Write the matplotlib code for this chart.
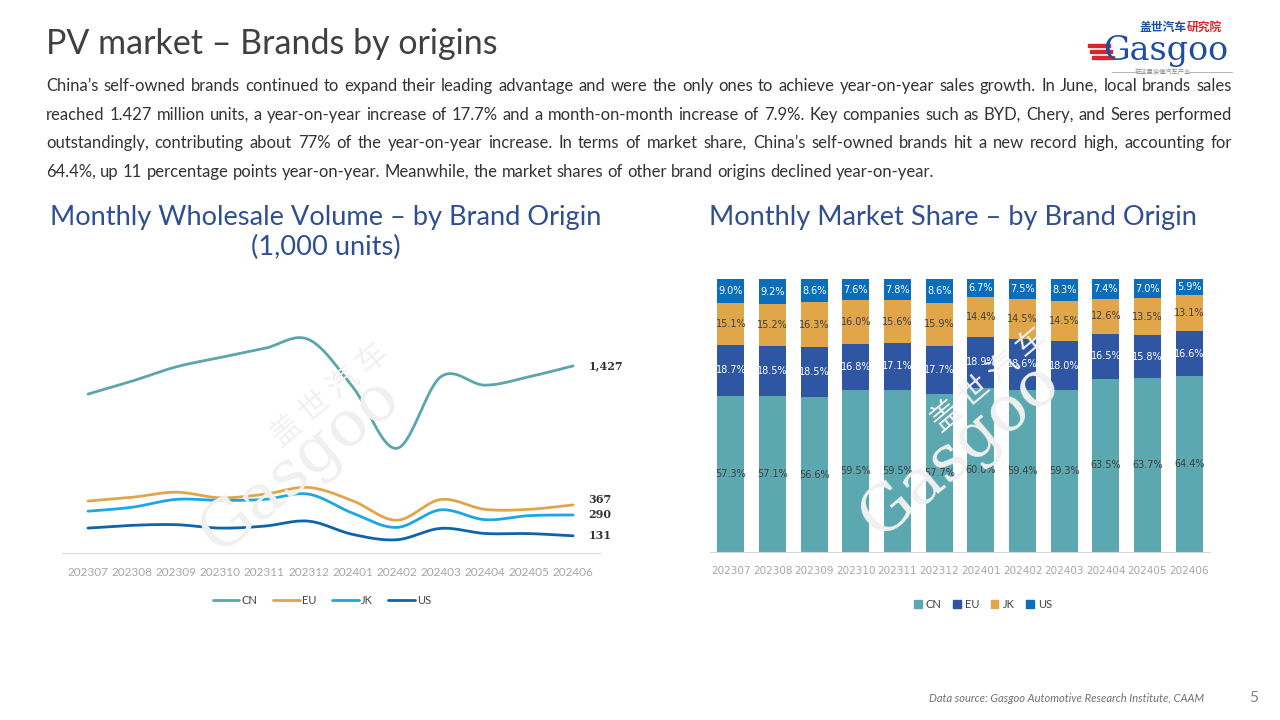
import matplotlib
matplotlib.use("Agg")
import matplotlib.pyplot as plt
from matplotlib.patches import Patch, Rectangle
import numpy as np

plt.rcParams['font.family'] = ['Lato', 'DejaVu Sans']

months = ['202307', '202308', '202309', '202310', '202311', '202312',
          '202401', '202402', '202403', '202404', '202405', '202406']

# monthly wholesale volume, 1,000 units
vol_cn = [1212, 1311, 1420, 1491, 1560, 1629, 1268, 798, 1344, 1280, 1344, 1427]
vol_eu = [396, 425, 464, 421, 448, 500, 399, 250, 408, 333, 333, 367]
vol_jk = [319, 349, 409, 401, 409, 449, 304, 195, 329, 254, 285, 290]
vol_us = [190, 211, 216, 190, 205, 243, 142, 101, 188, 149, 148, 131]

# market share, %
sh_cn = [57.3, 57.1, 56.6, 59.5, 59.5, 57.7, 60.0, 59.4, 59.3, 63.5, 63.7, 64.4]
sh_eu = [18.7, 18.5, 18.5, 16.8, 17.1, 17.7, 18.9, 18.6, 18.0, 16.5, 15.8, 16.6]
sh_jk = [15.1, 15.2, 16.3, 16.0, 15.6, 15.9, 14.4, 14.5, 14.5, 12.6, 13.5, 13.1]
sh_us = [9.0, 9.2, 8.6, 7.6, 7.8, 8.6, 6.7, 7.5, 8.3, 7.4, 7.0, 5.9]

paragraph = [
    "China’s self-owned brands continued to expand their leading advantage and were the only ones to achieve year-on-year sales growth. In June, local brands sales",
    "reached 1.427 million units, a year-on-year increase of 17.7% and a month-on-month increase of 7.9%. Key companies such as BYD, Chery, and Seres performed",
    "outstandingly, contributing about 77% of the year-on-year increase. In terms of market share, China’s self-owned brands hit a new record high, accounting for",
    "64.4%, up 11 percentage points year-on-year. Meanwhile, the market shares of other brand origins declined year-on-year.",
]

W, H = 1280, 720
fig = plt.figure(figsize=(12.8, 7.2), dpi=100)
fig.patch.set_facecolor('white')


def fx(px):
    return px / W


def fy(py):
    return 1 - py / H


def smooth(x, y, n=24):
    # Excel-style smoothed line (cubic Bezier through the points)
    pts = np.column_stack([x, y]).astype(float)
    ext = np.vstack([pts[0], pts, pts[-1]])
    out = []
    t = np.linspace(0, 1, n)[:, None]
    for i in range(len(pts) - 1):
        p0, p1, p2, p3 = ext[i], ext[i + 1], ext[i + 2], ext[i + 3]
        c1 = p1 + (p2 - p0) / 6
        c2 = p2 - (p3 - p1) / 6
        seg = (1 - t) ** 3 * p1 + 3 * (1 - t) ** 2 * t * c1 + 3 * (1 - t) * t ** 2 * c2 + t ** 3 * p2
        out.append(seg if i == 0 else seg[1:])
    out = np.vstack(out)
    return out[:, 0], out[:, 1]


# ---- header ----
fig.text(fx(46), fy(44), 'PV market – Brands by origins', fontsize=24.5,
         color='#404040', va='center', ha='left')

# justified paragraph
renderer = fig.canvas.get_renderer()
pfs = 12
pcol = '#333333'


def text_w(s):
    t = fig.text(0, 0, s, fontsize=pfs)
    w = t.get_window_extent(renderer).width
    t.remove()
    return w


x0, x1 = 46, 1232
baselines = [91, 120, 148, 177]
space_w = text_w('a a') - text_w('aa')
for i, line in enumerate(paragraph):
    words = line.split(' ')
    widths = [text_w(w) for w in words]
    if i < len(paragraph) - 1:
        gap = (x1 - x0 - sum(widths)) / (len(words) - 1)
    else:
        gap = space_w
    x = x0
    for w, wd in zip(words, widths):
        fig.text(fx(x), fy(baselines[i]), w, fontsize=pfs, color=pcol,
                 va='baseline', ha='left')
        x += wd + gap

# logo
fig.text(fx(1186), fy(27), '盖世汽车', fontsize=8.5, color='#1F4E9E', weight='bold',
         family=['Noto Sans CJK SC'], va='center', ha='right')
fig.text(fx(1187), fy(27), '研究院', fontsize=8.5, color='#D8262C', weight='bold',
         family=['Noto Sans CJK SC'], va='center', ha='left')
fig.text(fx(1166), fy(51), 'Gasgoo', fontsize=24, color='#1F4E9E',
         family=['DejaVu Serif'], va='center', ha='center')
for k, yy in enumerate([44, 50, 56]):
    fig.patches.append(Rectangle((fx(1088 + k * 2), fy(yy + 3)), fx(22), 3.0 / H,
                                 transform=fig.transFigure, color='#D8262C'))
fig.text(fx(1163), fy(72), '在这里读懂汽车产业', fontsize=4.5, color='#888888',
         family=['Noto Sans CJK SC'], va='center', ha='center')
fig.lines.append(plt.Line2D([fx(1112), fx(1137)], [fy(72), fy(72)],
                            transform=fig.transFigure, color='#AAAAAA', lw=0.6))
fig.lines.append(plt.Line2D([fx(1189), fx(1232)], [fy(72), fy(72)],
                            transform=fig.transFigure, color='#AAAAAA', lw=0.6))

# footer
fig.text(fx(1204), fy(698), 'Data source: Gasgoo Automotive Research Institute, CAAM',
         fontsize=8, color='#707070', style='italic', va='center', ha='right')
fig.text(fx(1254), fy(698), '5', fontsize=11, color='#808080', va='center', ha='center')

title_col = '#2F4F93'
fig.text(fx(326), fy(217), 'Monthly Wholesale Volume – by Brand Origin', fontsize=19.6,
         color=title_col, va='center', ha='center')
fig.text(fx(326), fy(247), '(1,000 units)', fontsize=19.6, color=title_col,
         va='center', ha='center')
fig.text(fx(953), fy(218), 'Monthly Market Share – by Brand Origin', fontsize=19.6,
         color=title_col, va='center', ha='center')

# watermarks
for cx, cy in [(300, 465), (960, 450)]:
    fig.text(fx(cx), fy(cy), 'Gasgoo', fontsize=46, color='#F0F0F0', rotation=40,
             family=['DejaVu Serif'], va='center', ha='center', zorder=0)
    fig.text(fx(cx + 30), fy(cy - 70), '盖 世 汽 车', fontsize=22, color='#F0F0F0', rotation=40,
             family=['Noto Sans CJK SC'], va='center', ha='center', zorder=0)

tick_col = '#A6A6A6'
axis_col = '#D9D9D9'

# ---- left: line chart ----
ax1 = fig.add_axes([fx(62), fy(553), fx(538), 236 / H])
ax1.patch.set_alpha(0)
xs = np.arange(len(months))
series = [('CN', vol_cn, '#5BA5AD'), ('EU', vol_eu, '#E0A54B'),
          ('JK', vol_jk, '#1BA8E0'), ('US', vol_us, '#0F63AA')]
for name, vals, col in series:
    sx, sy = smooth(xs, vals)
    ax1.plot(sx, sy, color=col, lw=2.0, label=name, solid_capstyle='round')
label_dy = {'CN': 0, 'EU': 30, 'JK': 0, 'US': 0}
for name, vals, col in series:
    ax1.annotate(f'{vals[-1]:,}', (xs[-1], vals[-1]), xytext=(11, label_dy[name] / 7.5),
                 textcoords='offset points', fontsize=8, weight='bold',
                 family=['DejaVu Serif'], color='#333333', va='center', ha='left')
ax1.set_xlim(-0.59, 11.61)
ax1.set_ylim(0, 1800)
ax1.set_yticks([])
ax1.set_xticks(xs, months)
ax1.tick_params(axis='x', length=0, labelsize=8.5, colors=tick_col, pad=10)
for s in ['top', 'right', 'left']:
    ax1.spines[s].set_visible(False)
ax1.spines['bottom'].set_color(axis_col)
ax1.legend(loc='center', bbox_to_anchor=(fx(322), fy(600)), bbox_transform=fig.transFigure,
           ncol=4, frameon=False, fontsize=8, handlelength=2.4, handletextpad=0.2,
           columnspacing=1.4, labelcolor='#404040')

# ---- right: stacked bars ----
ax2 = fig.add_axes([fx(710), fy(552), fx(500), 273 / H])
ax2.patch.set_alpha(0)
bw = 0.65
stack = [('CN', sh_cn, '#5BA8B0', '#404040'), ('EU', sh_eu, '#2E56A3', 'white'),
         ('JK', sh_jk, '#E1A649', '#404040'), ('US', sh_us, '#0A6EBD', 'white')]
bottom = np.zeros(len(months))
for name, vals, col, tcol in stack:
    vals = np.array(vals)
    bars = ax2.bar(xs, vals, bw, bottom=bottom, color=col, label=name)
    ax2.bar_label(bars, labels=[f'{v:.1f}%' for v in vals], label_type='center',
                  fontsize=7, color=tcol, family=['DejaVu Sans'])
    bottom += vals
ax2.set_xlim(-0.5, 11.5)
ax2.set_ylim(0, 100)
ax2.set_yticks([])
ax2.set_xticks(xs, months)
ax2.tick_params(axis='x', length=0, labelsize=7.5, colors=tick_col, pad=10)
for lbl in ax2.get_xticklabels():
    lbl.set_family(['DejaVu Sans'])
for s in ['top', 'right', 'left']:
    ax2.spines[s].set_visible(False)
ax2.spines['bottom'].set_color(axis_col)
handles = [Patch(color=c, label=n) for n, _, c, _ in stack]
ax2.legend(handles=handles, loc='center', bbox_to_anchor=(fx(983), fy(604)),
           bbox_transform=fig.transFigure, ncol=4, frameon=False, fontsize=8,
           handlelength=0.7, handleheight=0.7, handletextpad=0.4, columnspacing=1.0,
           labelcolor='#404040')

fig.savefig('out.png', dpi=100)
